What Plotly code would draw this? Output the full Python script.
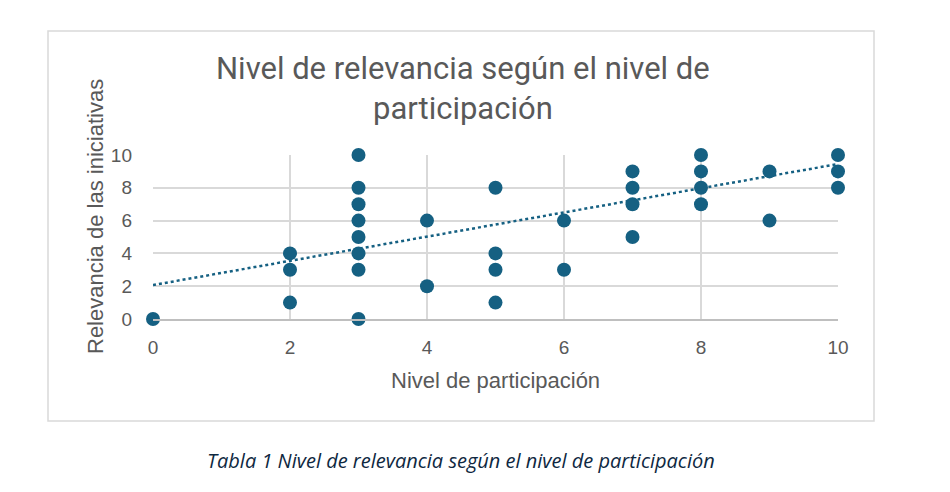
import plotly.graph_objects as go

# participation level (x) vs relevance (y)
participacion = [0, 2, 2, 2, 3, 3, 3, 3, 3, 3, 3, 3, 4, 4, 5, 5, 5, 5, 6, 6,
                 7, 7, 7, 7, 8, 8, 8, 8, 9, 9, 10, 10, 10]
relevancia = [0, 4, 3, 1, 10, 8, 7, 6, 5, 4, 3, 0, 6, 2, 8, 4, 3, 1, 6, 3,
              9, 8, 7, 5, 10, 9, 8, 7, 9, 6, 10, 9, 8]

# linear trend line endpoints as drawn in the reference
tendencia_x = [0, 10]
tendencia_y = [2.07, 9.45]

x_ticks = [0, 2, 4, 6, 8, 10]
y_ticks = [0, 2, 4, 6, 8, 10]

# page body adds 8px, so the figure is a bit smaller and shifted
OFF = 8
W, H = 950 - 2 * OFF, 492 - 2 * OFF
L, T = 153 - OFF, 155 - OFF
R, B = W - (838 - OFF), H - (319 - OFF)
PW, PH = W - L - R, H - T - B


def px_x(p):
    return (p - OFF - L) / PW


def px_y(p):
    return (H - B - (p - OFF)) / PH


GRAY = '#595959'
BLUE = '#156082'

fig = go.Figure()
fig.add_trace(go.Scatter(x=tendencia_x, y=tendencia_y, mode='lines',
                         line=dict(color=BLUE, width=2.5, dash='dot'),
                         cliponaxis=False, hoverinfo='skip'))
fig.add_trace(go.Scatter(x=participacion, y=relevancia, mode='markers',
                         marker=dict(color=BLUE, size=14), cliponaxis=False))

fig.update_xaxes(range=[0, 10], tickvals=x_ticks, showgrid=True, gridcolor='#d9d9d9', gridwidth=1.5,
                 zeroline=False, showline=True, linecolor='#bfbfbf', linewidth=1.5,
                 tickfont=dict(family='Liberation Sans', size=19, color=GRAY), ticks='',
                 ticklabelstandoff=10)
fig.update_yaxes(range=[0, 10], tickvals=y_ticks, showgrid=True, gridcolor='#d9d9d9', gridwidth=1.5,
                 zeroline=False, showline=False,
                 tickfont=dict(family='Liberation Sans', size=19, color=GRAY), ticks='',
                 ticklabelstandoff=20)

fig.update_layout(
    width=W, height=H,
    margin=dict(l=L, r=R, t=T, b=B),
    paper_bgcolor='white', plot_bgcolor='white',
    showlegend=False,
    shapes=[dict(type='rect', xref='paper', yref='paper',
                 x0=px_x(48), x1=px_x(874), y0=px_y(421), y1=px_y(31),
                 line=dict(color='#d9d9d9', width=1.5), layer='below')],
    annotations=[
        dict(text='Nivel de relevancia según el nivel de<br>participación', xref='paper', yref='paper',
             x=px_x(463), y=px_y(88), xanchor='center', yanchor='middle', showarrow=False,
             align='center', font=dict(family='Roboto', size=31, color=GRAY)),
        dict(text='Relevancia de las iniciativas', xref='paper', yref='paper',
             x=px_x(95), y=px_y(217), xanchor='center', yanchor='middle', showarrow=False,
             textangle=-90, font=dict(family='Liberation Sans', size=22, color=GRAY)),
        dict(text='Nivel de participación', xref='paper', yref='paper',
             x=px_x(495), y=px_y(380), xanchor='center', yanchor='middle', showarrow=False,
             font=dict(family='Liberation Sans', size=22, color=GRAY)),
        dict(text='<i>Tabla 1 Nivel de relevancia según el nivel de participación</i>', xref='paper',
             yref='paper', x=px_x(461), y=px_y(460), xanchor='center', yanchor='middle',
             showarrow=False, font=dict(family='Open Sans', size=20, color='#0e2841')),
    ],
)

fig.write_html('out.html')
